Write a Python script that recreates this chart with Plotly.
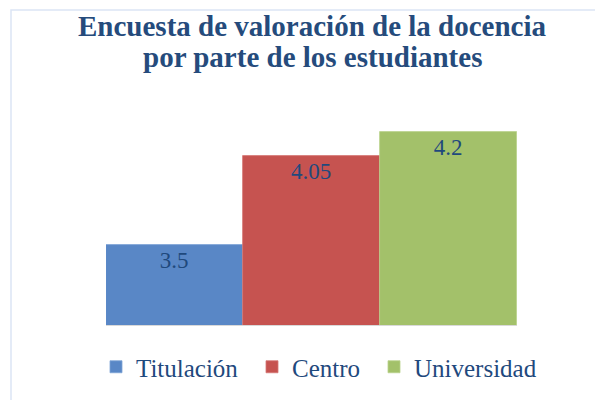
import plotly.graph_objects as go

title_lines = ["Encuesta de valoración de la docencia", "por parte de los estudiantes"]
series_names = ["Titulación", "Centro", "Universidad"]
series_values = [3.5, 4.05, 4.2]
value_labels = ["3.5", "4.05", "4.2"]
category = [""]

colors = ["#5987c6", "#c65350", "#a3c16a"]
edge_colors = ["#7ea3d6", "#d47674", "#b9d28c"]
legend_ids = ["legend", "legend2", "legend3"]
legend_text_x = [137, 293, 415]

W, H = 595, 400
ML, MR, MT, MB = 106, 78, 84, 75
SERIF = "Liberation Serif"

fig = go.Figure()
for name, val, lab, c, ec, lg in zip(series_names, series_values, value_labels, colors, edge_colors, legend_ids):
    fig.add_trace(go.Bar(
        name=name, x=category, y=[val], text=[lab],
        textposition="inside", insidetextanchor="end",
        textfont=dict(family=SERIF, size=23, color="#1f497d"),
        marker=dict(color=c, line=dict(color=ec, width=0.8)),
        legend=lg,
    ))

pw = W - ML - MR
ph = H - MT - MB


def py2paper(py):
    return (H - MB - py) / ph


# chart area border
fig.add_shape(type="rect", xref="paper", yref="paper",
              x0=(11 - ML) / pw, x1=(W + 5 - ML) / pw,
              y0=py2paper(H + 5), y1=py2paper(10),
              line=dict(color="#dbe5f5", width=1.5), fillcolor="rgba(0,0,0,0)", layer="below")

title_font = dict(family=SERIF, size=29, color="#254b7c", weight="bold")
for line, yc in zip(title_lines, [26, 57]):
    fig.add_annotation(text=line, xref="paper", yref="paper",
                       x=(312.5 - ML) / pw, xanchor="center",
                       y=py2paper(yc), yanchor="middle",
                       showarrow=False, font=title_font)

legend_style = dict(orientation="h", xanchor="left", xref="container", yref="container",
                    y=(H - 367) / H, yanchor="middle",
                    font=dict(family=SERIF, size=25, color="#1f497d"),
                    itemwidth=30, bgcolor="rgba(0,0,0,0)")
legends = {}
for lg, tx in zip(legend_ids, legend_text_x):
    legends[lg] = dict(legend_style, x=(tx - 41) / W)

fig.update_layout(
    width=W, height=H,
    font=dict(family=SERIF, size=25, color="#1f497d"),
    margin=dict(l=ML, r=MR, t=MT, b=MB, autoexpand=False),
    paper_bgcolor="white", plot_bgcolor="white",
    barmode="group", bargap=0, bargroupgap=0,
    xaxis=dict(showticklabels=False, showline=True, linecolor="#d9d9d9", linewidth=1,
               showgrid=False, zeroline=False, ticks=""),
    yaxis=dict(range=[3, 4.5], visible=False, showgrid=False, zeroline=False),
    showlegend=True,
    **legends,
)

fig.write_html("out.html", config={"displayModeBar": False},
               post_script="document.body.style.margin='0px';")
